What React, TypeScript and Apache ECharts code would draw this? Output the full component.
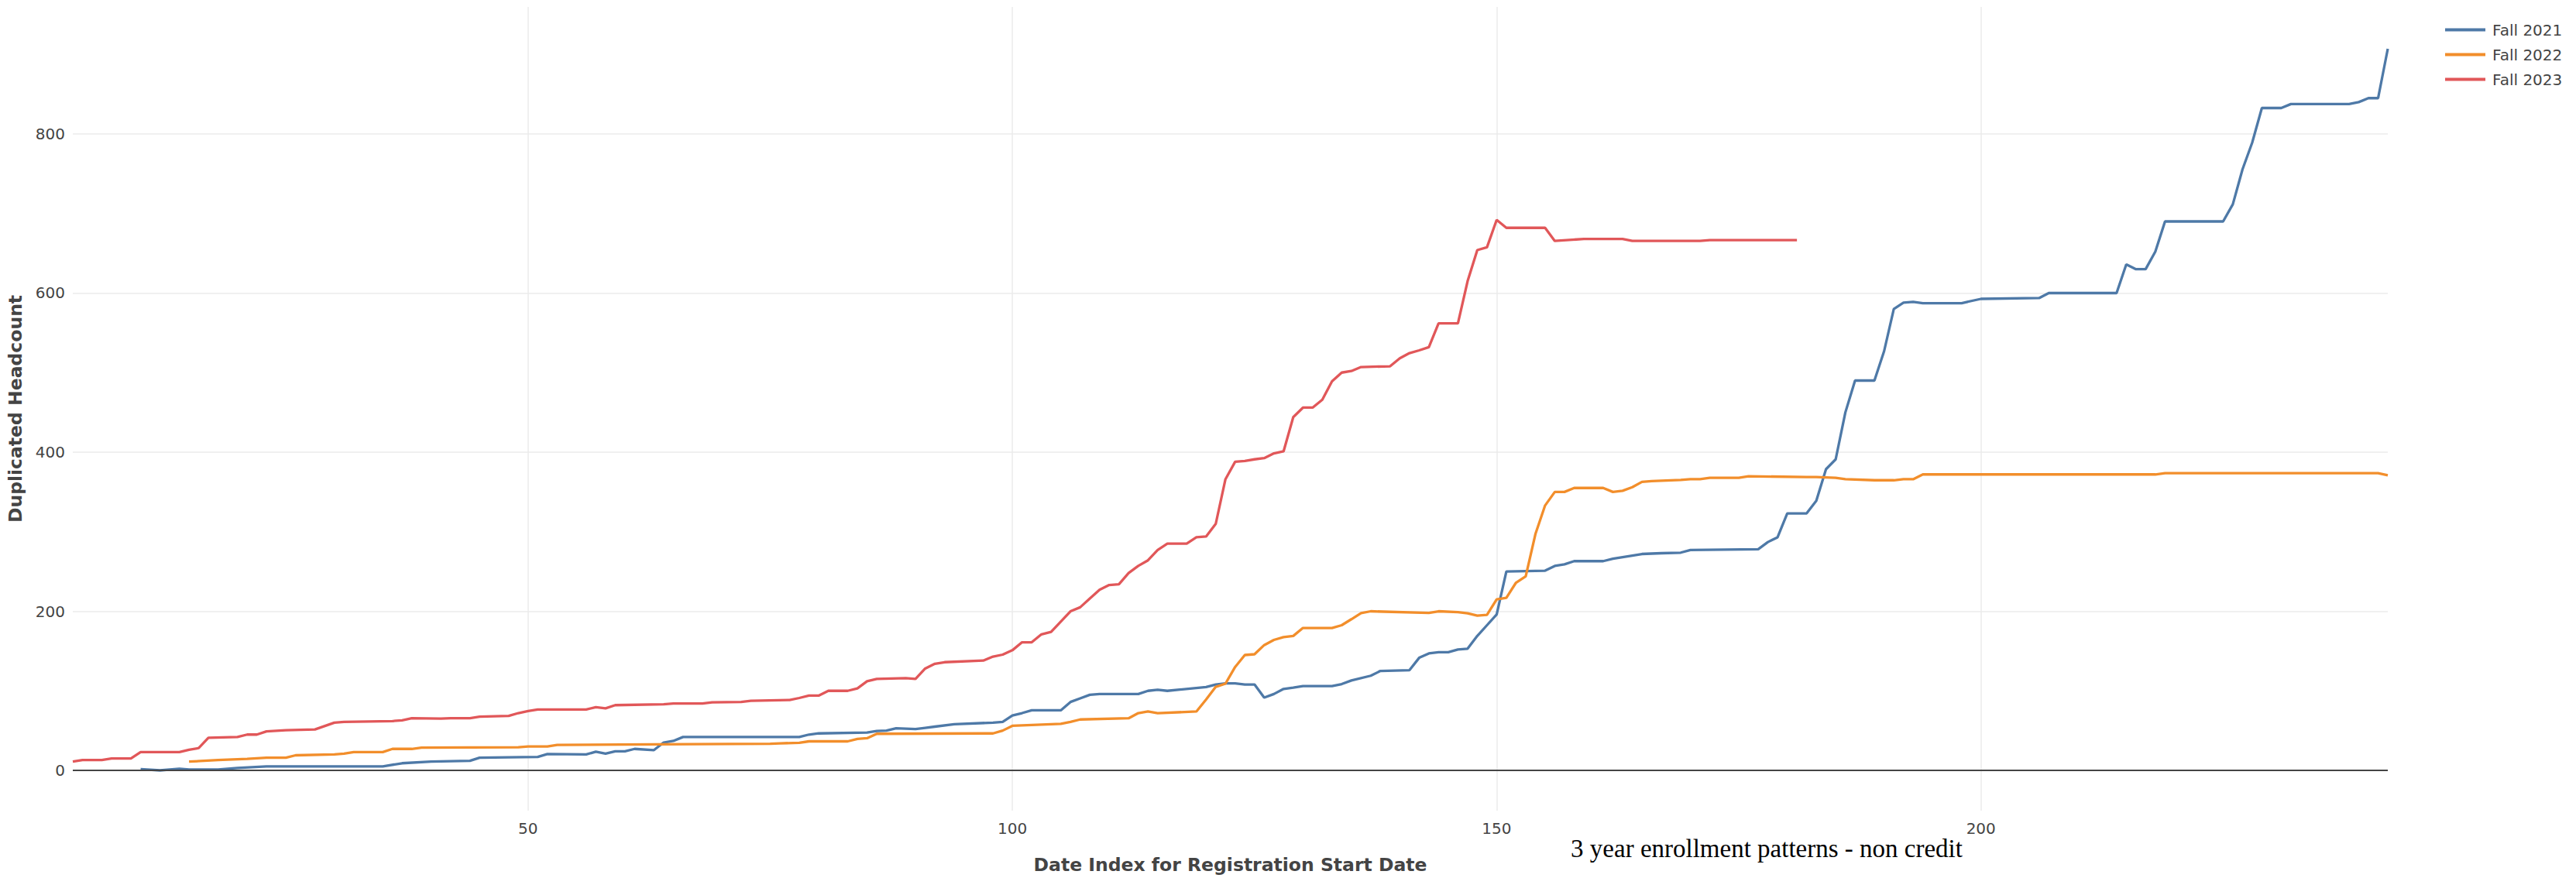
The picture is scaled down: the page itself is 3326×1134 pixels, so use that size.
import React, { useEffect, useRef } from "react";
import * as echarts from "echarts";

const chartTitle = "3 year enrollment patterns - non credit";
const xAxisTitle = "Date Index for Registration Start Date";
const yAxisTitle = "Duplicated Headcount";
const seriesNames = ["Fall 2021", "Fall 2022", "Fall 2023"];
const seriesColors = ["#4e79a7", "#f28e2b", "#e15759"];

// [date index, duplicated headcount] (vertices of each line)
const fall2021: [number, number][] = [
  [10, 1.5], [12, 0], [14, 2], [15, 1], [18, 1], [20, 3], [23, 5], [35, 5], [37, 9], [40, 11],
  [44, 12], [45, 16], [51, 17], [52, 20.5], [56, 20], [57, 23.5], [58, 21], [59, 24], [60, 24],
  [61, 27], [63, 25.5], [64, 35], [65, 37], [66, 42], [78, 42], [79, 45], [80, 46.5], [85, 47.5],
  [86, 49.5], [87, 50], [88, 53], [90, 52], [91, 53.5], [92, 55], [94, 58], [98, 60], [99, 61],
  [100, 69], [101, 72], [102, 75.5], [105, 75.5], [106, 86], [107, 90.5], [108, 95], [109, 96],
  [113, 96], [114, 100], [115, 101.4], [116, 100], [120, 104.7], [121, 108], [122, 109.4],
  [123, 109.4], [124, 108], [125, 108], [126, 91.5], [127, 96], [128, 102.4], [129, 104],
  [130, 106], [133, 106], [134, 108.5], [135, 113], [137, 119], [138, 125], [141, 126],
  [142, 141.5], [143, 147], [144, 148.6], [145, 148.6], [146, 152], [147, 153], [148, 169],
  [149, 182.5], [150, 196], [151, 250], [155, 251], [156, 257], [157, 259], [158, 263],
  [161, 263], [162, 266], [164, 270], [165, 272], [167, 273], [169, 273.7], [170, 277],
  [177, 278], [178, 287], [179, 293], [180, 323], [182, 323], [183, 339], [184, 378.6],
  [185, 391], [186, 450], [187, 490], [189, 490], [190, 527], [191, 580], [192, 588],
  [193, 589], [194, 587.3], [198, 587.3], [200, 592.7], [206, 593.7], [207, 600], [214, 600],
  [215, 636], [216, 630], [217, 630], [218, 652], [219, 690], [225, 690], [226, 711.5],
  [227, 755.5], [228, 789], [229, 832.6], [231, 832.6], [232, 837.6], [238, 837.6], [239, 840],
  [240, 845], [241, 845], [242, 907],
];

const fall2022: [number, number][] = [
  [15, 11], [18, 13], [21, 14.5], [23, 16], [25, 16], [26, 19], [30, 20], [31, 21], [32, 23],
  [35, 23], [36, 27], [38, 27], [39, 28.5], [49, 29], [50, 30], [52, 30], [53, 32], [63, 32.7],
  [75, 33.4], [76, 34], [78, 34.7], [79, 36.5], [83, 36.5], [84, 39.5], [85, 40.5], [86, 46],
  [98, 46.5], [99, 50], [100, 56], [105, 58.5], [106, 61], [107, 64], [112, 65.5], [113, 72],
  [114, 74], [115, 72], [119, 74], [120, 89], [121, 105], [122, 109], [123, 130], [124, 145],
  [125, 146], [126, 157.5], [127, 164], [128, 167.5], [129, 169], [130, 179], [133, 179],
  [134, 182.5], [135, 190], [136, 197.6], [137, 200], [143, 198], [144, 200], [146, 199],
  [147, 197.5], [148, 194.5], [149, 195.5], [150, 215], [151, 217], [152, 236], [153, 244],
  [154, 297], [155, 333], [156, 350], [157, 350], [158, 355], [161, 355], [162, 350],
  [163, 351.5], [164, 356], [165, 362.7], [166, 363.7], [169, 365], [170, 366], [171, 366],
  [172, 367.7], [175, 367.7], [176, 369.7], [182, 368.7], [183, 368.7], [185, 367.7],
  [186, 366], [189, 364.7], [191, 364.7], [192, 366], [193, 366], [194, 372], [218, 372],
  [219, 373.6], [241, 373.6], [242, 371],
];

const fall2023: [number, number][] = [
  [3, 11], [4, 13], [6, 13], [7, 15], [9, 15], [10, 23], [14, 23], [15, 26], [16, 28], [17, 41],
  [20, 42], [21, 45], [22, 45], [23, 49], [25, 50.5], [28, 51.5], [30, 60], [31, 61], [36, 62],
  [37, 63], [38, 65.5], [41, 65], [42, 65.5], [44, 65.5], [45, 67.5], [48, 68.5], [49, 72],
  [50, 74.5], [51, 76.5], [56, 76.5], [57, 79.5], [58, 78], [59, 82], [64, 83], [65, 84],
  [68, 84], [69, 85.5], [72, 86], [73, 87.5], [77, 88.5], [78, 91], [79, 94], [80, 94],
  [81, 100], [83, 100], [84, 103], [85, 112], [86, 115], [89, 116], [90, 115], [91, 128],
  [92, 134], [93, 136], [97, 138], [98, 143], [99, 145.5], [100, 151], [101, 161], [102, 161],
  [103, 171], [104, 174], [105, 187], [106, 200], [107, 205], [108, 216], [109, 227],
  [110, 233], [111, 234], [112, 248], [113, 257], [114, 264], [115, 277], [116, 285],
  [118, 285], [119, 293], [120, 294], [121, 310], [122, 366], [123, 388], [124, 389],
  [125, 391], [126, 392.5], [127, 398.5], [128, 401], [129, 444], [130, 456], [131, 456],
  [132, 466], [133, 489], [134, 500], [135, 502], [136, 507], [139, 508], [140, 518],
  [141, 524.5], [142, 528], [143, 532], [144, 562], [146, 562], [147, 615], [148, 654],
  [149, 657.5], [150, 692], [151, 682], [155, 682], [156, 665.5], [159, 668], [163, 668],
  [164, 665.5], [171, 665.5], [172, 666.5], [181, 666.5],
];

const seriesData = [fall2021, fall2022, fall2023];

const xMin = 3;
const xMax = 242;
const yMin = -50.6;
const yMax = 959.6;
const zeroLineValue = 0;

const tickFont = "DejaVu Sans";

export default function App() {
  const ref = useRef<HTMLDivElement>(null);

  useEffect(() => {
    if (!ref.current) return;
    const chart = echarts.init(ref.current, null, { renderer: "svg" });
    chart.setOption({
      animation: false,
      backgroundColor: "#ffffff",
      title: {
        text: chartTitle,
        left: 2276,
        top: 1074,
        textAlign: "center",
        textStyle: {
          fontFamily: "Liberation Serif",
          fontSize: 33,
          fontWeight: "normal",
          color: "#000000",
        },
      },
      legend: {
        orient: "vertical",
        left: 3152,
        top: 22,
        icon: "rect",
        itemWidth: 52,
        itemHeight: 4,
        itemGap: 9,
        data: seriesNames,
        textStyle: {
          fontFamily: tickFont,
          fontSize: 20,
          color: "#444444",
          lineHeight: 23,
          padding: [0, 0, 0, 4],
        },
      },
      grid: { left: 86, right: 243, top: 9, bottom: 87, containLabel: false },
      xAxis: {
        type: "value",
        min: xMin,
        max: xMax,
        name: xAxisTitle,
        nameLocation: "middle",
        nameGap: 58,
        nameTextStyle: {
          fontFamily: tickFont,
          fontWeight: "bold",
          fontSize: 23.5,
          color: "#444444",
        },
        axisLine: { show: false, onZero: false },
        axisTick: { show: false },
        axisLabel: {
          fontFamily: tickFont,
          fontSize: 20,
          color: "#444444",
          margin: 13,
          showMinLabel: false,
          showMaxLabel: false,
        },
        splitLine: {
          show: true,
          showMinLine: false,
          showMaxLine: false,
          lineStyle: { color: "#ebebeb", width: 1.5 },
        },
      },
      yAxis: {
        type: "value",
        min: yMin,
        max: yMax,
        name: yAxisTitle,
        nameLocation: "middle",
        nameGap: 62,
        nameTextStyle: {
          fontFamily: tickFont,
          fontWeight: "bold",
          fontSize: 23.5,
          color: "#444444",
        },
        axisLine: { show: false },
        axisTick: { show: false },
        axisLabel: {
          fontFamily: tickFont,
          fontSize: 20,
          color: "#444444",
          margin: 10,
          showMinLabel: false,
          showMaxLabel: false,
        },
        splitLine: {
          show: true,
          showMinLine: false,
          showMaxLine: false,
          lineStyle: { color: "#ebebeb", width: 1.5 },
        },
      },
      series: seriesNames.map((name, i) => ({
        type: "line",
        name,
        data: seriesData[i],
        symbol: "none",
        showSymbol: false,
        lineStyle: { width: 3.3, color: seriesColors[i] },
        itemStyle: { color: seriesColors[i] },
        z: 2 + i,
        markLine:
          i === 0
            ? {
                silent: true,
                symbol: ["none", "none"],
                label: { show: false },
                lineStyle: { color: "#444444", width: 2, type: "solid" },
                emphasis: { disabled: true },
                data: [{ yAxis: zeroLineValue }],
              }
            : undefined,
      })),
    });
    return () => chart.dispose();
  }, []);

  return (
    <div
      ref={ref}
      style={{ position: "absolute", left: 0, top: 0, width: 3326, height: 1134 }}
    />
  );
}
